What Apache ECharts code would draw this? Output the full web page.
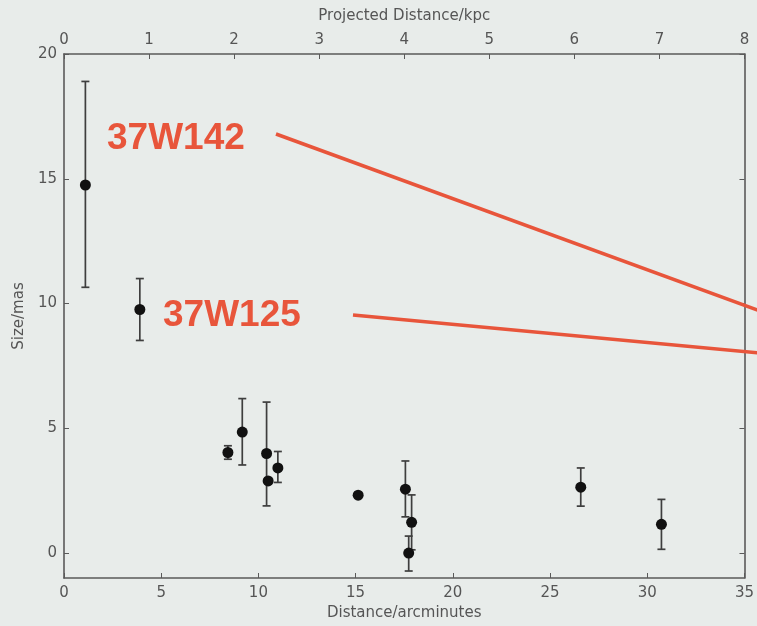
<!DOCTYPE html>
<html>
<head>
<meta charset="utf-8">
<script src="https://cdn.jsdelivr.net/npm/echarts@6/dist/echarts.min.js"></script>
<style>
html,body{margin:0;padding:0;background:#e8ecea;}
#c{width:757px;height:626px;}
</style>
</head>
<body>
<div id="c"></div>
<script>
// Data: distance (arcmin), size (mas), lower/upper error bar ends
var distArcmin = [1.1, 3.9, 8.43, 9.17, 10.42, 10.5, 11.0, 15.13, 17.56, 17.88, 17.73, 26.58, 30.73];
var sizeMas    = [14.75, 9.76, 4.03, 4.85, 3.99, 2.89, 3.41, 2.32, 2.56, 1.23, 0.0, 2.64, 1.15];
var errLow     = [10.65, 8.52, 3.76, 3.53, 1.89, 2.79, 2.83, 2.24, 1.45, 0.13, -0.72, 1.88, 0.15];
var errHigh    = [18.9, 11.0, 4.3, 6.19, 6.05, 2.99, 4.07, 2.40, 3.69, 2.33, 0.68, 3.41, 2.15];

var bottomTicks = [0, 5, 10, 15, 20, 25, 30, 35];
var topTicks = [0, 1, 2, 3, 4, 5, 6, 7, 8];
var leftTicks = [0, 5, 10, 15, 20];

var labels = ['37W142', '37W125'];

var axisCol = '#5a5a5a';
var txtCol = '#555555';
var red = '#e8553b';
var font = 'DejaVu Sans';

var pts = distArcmin.map(function (x, i) { return [x, sizeMas[i]]; });
var errs = distArcmin.map(function (x, i) { return [x, errLow[i], errHigh[i]]; });

var chart = echarts.init(document.getElementById('c'), null, {renderer: 'canvas'});

function axisCommon(ticks) {
  var t = {show: true, inside: true, length: 5, lineStyle: {color: axisCol, width: 1}};
  if (ticks) t.customValues = ticks;
  return {
    axisLine: {show: true, onZero: false, lineStyle: {color: axisCol, width: 1.6}},
    axisTick: t,
    splitLine: {show: false}
  };
}

var option = {
  backgroundColor: '#e8ecea',
  animation: false,
  grid: {left: 64, right: 11, top: 54, bottom: 46, containLabel: false},
  xAxis: [
    Object.assign({
      type: 'value', position: 'bottom', min: 0, max: 35, interval: 5,
      name: 'Distance/arcminutes', nameLocation: 'middle', nameGap: 28,
      nameTextStyle: {color: txtCol, fontFamily: font, fontSize: 15},
      axisLabel: {color: txtCol, fontFamily: font, fontSize: 15, margin: 8, customValues: bottomTicks}
    }, axisCommon(bottomTicks)),
    Object.assign({
      type: 'value', position: 'top', min: 0, max: 8, interval: 1,
      name: 'Projected Distance/kpc', nameLocation: 'middle', nameGap: 30,
      nameTextStyle: {color: txtCol, fontFamily: font, fontSize: 15},
      axisLabel: {color: txtCol, fontFamily: font, fontSize: 15, margin: 6, customValues: topTicks}
    }, axisCommon(topTicks))
  ],
  yAxis: [
    Object.assign({
      type: 'value', position: 'left', min: -1, max: 20,
      name: 'Size/mas', nameLocation: 'middle', nameGap: 36,
      nameTextStyle: {color: txtCol, fontFamily: font, fontSize: 15},
      axisLabel: {color: txtCol, fontFamily: font, fontSize: 15, margin: 7, customValues: leftTicks}
    }, axisCommon(leftTicks)),
    Object.assign({
      type: 'value', position: 'right', min: -1, max: 20,
      axisLabel: {show: false}
    }, axisCommon(leftTicks))
  ],
  series: [
    {
      type: 'custom',
      xAxisIndex: 0, yAxisIndex: 0,
      data: errs,
      renderItem: function (params, api) {
        var x = api.value(0);
        var lo = api.coord([x, api.value(1)]);
        var hi = api.coord([x, api.value(2)]);
        var cw = 4;
        var st = {stroke: '#3e3e3e', lineWidth: 1.7};
        return {
          type: 'group',
          children: [
            {type: 'line', shape: {x1: lo[0], y1: lo[1], x2: hi[0], y2: hi[1]}, style: st},
            {type: 'line', shape: {x1: lo[0] - cw, y1: lo[1], x2: lo[0] + cw, y2: lo[1]}, style: st},
            {type: 'line', shape: {x1: hi[0] - cw, y1: hi[1], x2: hi[0] + cw, y2: hi[1]}, style: st}
          ]
        };
      },
      z: 2
    },
    {
      type: 'scatter',
      xAxisIndex: 0, yAxisIndex: 0,
      data: pts,
      symbol: 'circle',
      symbolSize: 11,
      itemStyle: {color: '#111111', opacity: 1},
      z: 3
    }
  ],
  graphic: [
    {type: 'text', left: 107, top: 120, z: 10,
      style: {text: labels[0], fill: red, font: 'bold 37px "Liberation Sans", Arial, sans-serif'}},
    {type: 'text', left: 163, top: 297, z: 10,
      style: {text: labels[1], fill: red, font: 'bold 37px "Liberation Sans", Arial, sans-serif'}},
    {type: 'line', z: 10, shape: {x1: 276, y1: 134, x2: 760, y2: 311},
      style: {stroke: red, lineWidth: 3.5}},
    {type: 'line', z: 10, shape: {x1: 353, y1: 315, x2: 760, y2: 353},
      style: {stroke: red, lineWidth: 3.5}}
  ]
};
chart.setOption(option);
</script>
</body>
</html>
